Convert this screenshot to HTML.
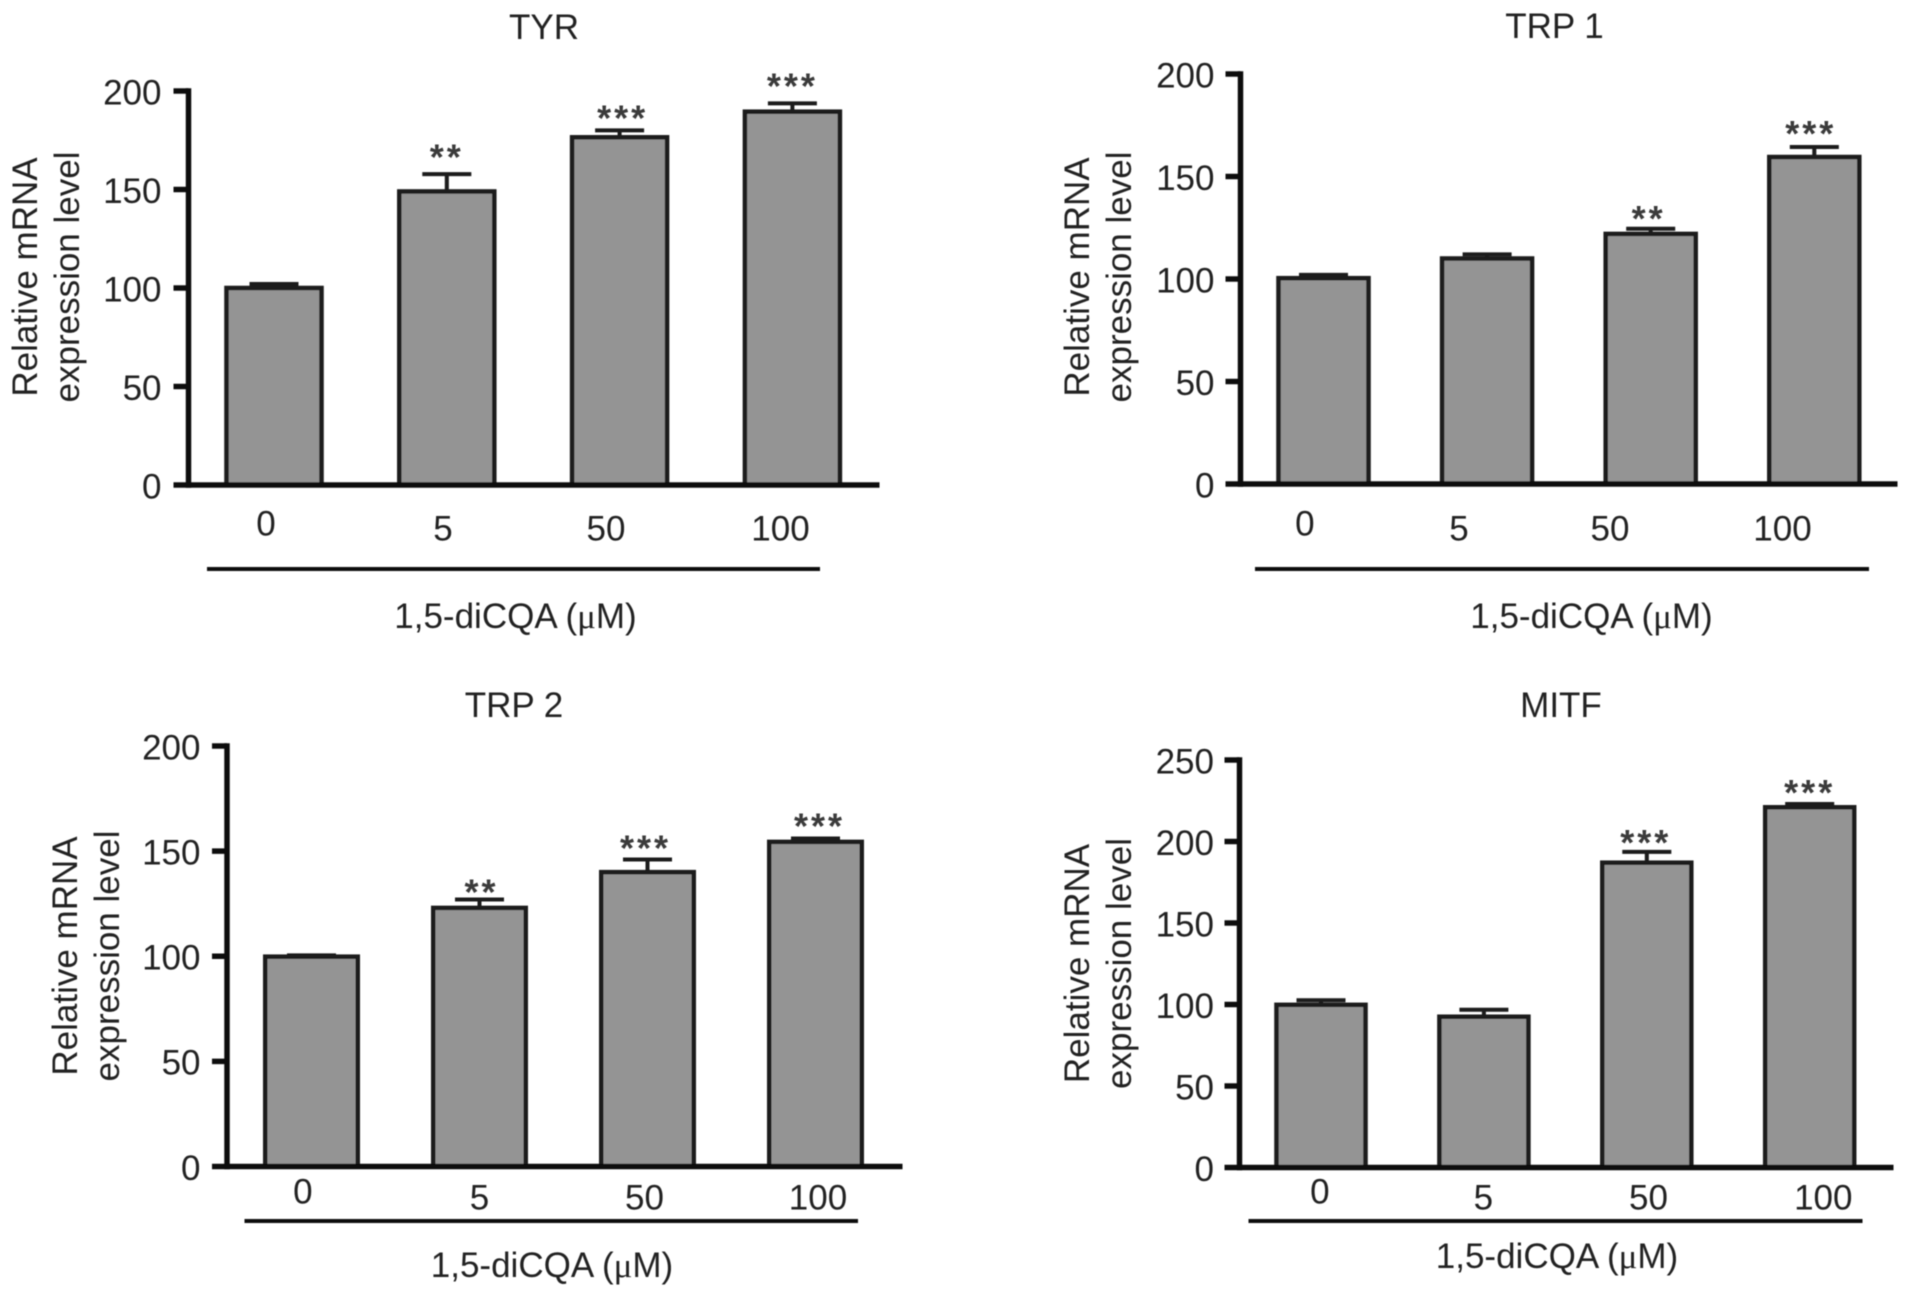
<!DOCTYPE html>
<html lang="en">
<head>
<meta charset="utf-8">
<title>Relative mRNA expression by 1,5-diCQA dose</title>
<style>
html,body{margin:0;padding:0;background:#fff;width:1913px;height:1297px;overflow:hidden}
svg{display:block}
text{font-family:"Liberation Sans",sans-serif;fill:#222}
.title{font-size:35px;text-anchor:middle}
.ytitle{font-size:35px;text-anchor:middle}
.xtitle{font-size:35px;text-anchor:middle}
.mu{font-family:"Liberation Serif",serif}
.bracket{stroke:#111;stroke-width:4}
</style>
</head>
<body>
<svg id="figure" xmlns="http://www.w3.org/2000/svg" width="1913" height="1297" viewBox="0 0 1913 1297">
<defs><filter id="soft" x="-2%" y="-2%" width="104%" height="104%"><feGaussianBlur stdDeviation="0.6"/></filter></defs>
<g filter="url(#soft)">
  <g id="panel-0">
    <text class="title" x="544" y="39">TYR</text>
    <text class="ytitle" transform="translate(37,277) rotate(-90)">Relative mRNA</text>
    <text class="ytitle" transform="translate(79,277) rotate(-90)">expression level</text>
    <line class="bracket" x1="207" x2="820" y1="569" y2="569"></line>
    <text class="xtitle" x="515.5" y="628">1,5-diCQA (<tspan class="mu">μ</tspan>M)</text>
  </g>
  <g id="panel-1">
    <text class="title" x="1554.5" y="38">TRP 1</text>
    <text class="ytitle" transform="translate(1089,277) rotate(-90)">Relative mRNA</text>
    <text class="ytitle" transform="translate(1131,277) rotate(-90)">expression level</text>
    <line class="bracket" x1="1255" x2="1869" y1="569" y2="569"></line>
    <text class="xtitle" x="1591.5" y="628">1,5-diCQA (<tspan class="mu">μ</tspan>M)</text>
  </g>
  <g id="panel-2">
    <text class="title" x="514" y="717">TRP 2</text>
    <text class="ytitle" transform="translate(77,956) rotate(-90)">Relative mRNA</text>
    <text class="ytitle" transform="translate(119,956) rotate(-90)">expression level</text>
    <line class="bracket" x1="244.5" x2="858" y1="1221" y2="1221"></line>
    <text class="xtitle" x="552" y="1277">1,5-diCQA (<tspan class="mu">μ</tspan>M)</text>
  </g>
  <g id="panel-3">
    <text class="title" x="1561" y="717">MITF</text>
    <text class="ytitle" transform="translate(1089,963.5) rotate(-90)">Relative mRNA</text>
    <text class="ytitle" transform="translate(1131,963.5) rotate(-90)">expression level</text>
    <line class="bracket" x1="1248.5" x2="1862.5" y1="1221" y2="1221"></line>
    <text class="xtitle" x="1557" y="1268">1,5-diCQA (<tspan class="mu">μ</tspan>M)</text>
  </g>
</g>
</svg>
<script>
// Chart data
const doseLabels = ['0', '5', '50', '100'];

const tyrValues = [100, 149, 176.5, 189.5];
const tyrErrorTops = [102, 157.8, 180, 193.7];
const tyrStars = ['', '**', '***', '***'];
const tyrTicks = [0, 50, 100, 150, 200];

const trp1Values = [100.4, 110, 122, 159.5];
const trp1ErrorTops = [102, 112, 124.5, 164.4];
const trp1Stars = ['', '', '**', '***'];
const trp1Ticks = [0, 50, 100, 150, 200];

const trp2Values = [99.8, 123, 140, 154.4];
const trp2ErrorTops = [100.4, 127, 146, 156];
const trp2Stars = ['', '**', '***', '***'];
const trp2Ticks = [0, 50, 100, 150, 200];

const mitfValues = [99.8, 92.5, 187, 221];
const mitfErrorTops = [102.6, 96.8, 193.6, 223];
const mitfStars = ['', '', '***', '***'];
const mitfTicks = [0, 50, 100, 150, 200, 250];

// Panel geometry (plot frames, independent of the data)
const panels = [
  {key: 'tyr', values: tyrValues, tops: tyrErrorTops, stars: tyrStars, ticks: tyrTicks,
   axisX: 188.5, plotTop: 91, base: 485, xEnd: 879.5, firstCenter: 274, step: 172.8, barWidth: 99.5, tickPad: 12,
   labelDx: [-8, -3.8, -13.6, -11.9], labelY: [523, 528, 528, 528], starGap: [20, 21, 16, 21], starDx: [0, 0, 3, 0]},
  {key: 'trp1', values: trp1Values, tops: trp1ErrorTops, stars: trp1Stars, ticks: trp1Ticks,
   axisX: 1240.5, plotTop: 74, base: 484, xEnd: 1897.5, firstCenter: 1323.5, step: 163.6, barWidth: 94.5, tickPad: 11,
   labelDx: [-18.7, -28.1, -40.7, -31.8], labelY: [523, 528, 528, 528], starGap: [20, 20, 14, 17], starDx: [0, 0, -2, -3.5]},
  {key: 'trp2', values: trp2Values, tops: trp2ErrorTops, stars: trp2Stars, ticks: trp2Ticks,
   axisX: 227, plotTop: 746, base: 1166.5, xEnd: 902.5, firstCenter: 311.5, step: 168, barWidth: 97, tickPad: 11.5,
   labelDx: [-8.7, 0, -3, 2.5], labelY: [1191, 1197, 1197, 1197], starGap: [16, 11, 15, 16], starDx: [0, 2, -2, 4]},
  {key: 'mitf', values: mitfValues, tops: mitfErrorTops, stars: mitfStars, ticks: mitfTicks,
   axisX: 1239.5, plotTop: 760, base: 1167.5, xEnd: 1893.5, firstCenter: 1321, step: 162.9, barWidth: 93.5, tickPad: 10.5,
   labelDx: [-1.2, -0.6, 1.7, 13.6], labelY: [1191, 1197, 1197, 1197], starGap: [15, 15, 13, 15], starDx: [0, 0, -1, 0]}
];

const NS = 'http://www.w3.org/2000/svg';
const AXIS_W = 5.5, BAR_STROKE = 4.5, ERR_W = 4, TICK_LEN = 15, CAP_W = 49, TICK_FONT = 35, STAR_FONT = 36;

function make(tag, parent) {
  const el = document.createElementNS(NS, tag);
  parent.appendChild(el);
  return el;
}
function setLine(el, x1, y1, x2, y2, color, width) {
  el.setAttribute('x1', x1);
  el.setAttribute('y1', y1);
  el.setAttribute('x2', x2);
  el.setAttribute('y2', y2);
  el.setAttribute('stroke', color);
  el.setAttribute('stroke-width', width);
}

panels.forEach(function (p, idx) {
  const g = document.getElementById('panel-' + idx);
  const maxTick = p.ticks[p.ticks.length - 1];
  const y = function (v) { return p.base - (v / maxTick) * (p.base - p.plotTop); };
  const x = function (i) { return p.firstCenter + i * p.step; };

  p.values.forEach(function (v, i) {
    const cx = x(i);
    const errTop = y(p.tops[i]);

    const err = make('line', g);
    setLine(err, cx, y(v), cx, errTop, '#1a1a1a', ERR_W);
    
    

    const cap = make('line', g);
    setLine(cap, cx - CAP_W / 2, errTop, cx + CAP_W / 2, errTop, '#1a1a1a', ERR_W);
    
    

    const bar = make('rect', g);
    bar.setAttribute('x', cx - p.barWidth / 2 + BAR_STROKE / 2);
    bar.setAttribute('width', p.barWidth - BAR_STROKE);
    bar.setAttribute('y', y(v));
    bar.setAttribute('height', p.base - y(v));
    bar.setAttribute('fill', '#949494');
    bar.setAttribute('stroke', '#1a1a1a');
    bar.setAttribute('stroke-width', BAR_STROKE);
    
    

    const lab = make('text', g);
    lab.setAttribute('x', cx + p.labelDx[i]);
    lab.setAttribute('y', p.labelY[i] + TICK_FONT * 0.35);
    lab.setAttribute('text-anchor', 'middle');
    lab.setAttribute('font-size', TICK_FONT);
    lab.textContent = doseLabels[i];
    
    

    if (p.stars[i]) {
      const star = make('text', g);
      star.setAttribute('x', cx + p.starDx[i]);
      star.setAttribute('y', errTop - p.starGap[i] + STAR_FONT * 0.42 + 1);
      star.setAttribute('text-anchor', 'middle');
      star.setAttribute('font-size', STAR_FONT);
      star.setAttribute('font-weight', 'bold');
      star.setAttribute('letter-spacing', '3');
      star.setAttribute('style', 'fill:#3a3a3a');
      star.textContent = p.stars[i];
      
      
    }
  });

  const yAxis = make('line', g);
  setLine(yAxis, p.axisX, p.plotTop - AXIS_W / 2, p.axisX, p.base + AXIS_W / 2, '#111', AXIS_W);
  
  

  const xAxis = make('line', g);
  setLine(xAxis, p.axisX, p.base, p.xEnd, p.base, '#111', AXIS_W);
  
  

  p.ticks.forEach(function (t) {
    const tick = make('line', g);
    setLine(tick, p.axisX - TICK_LEN, y(t), p.axisX, y(t), '#111', AXIS_W);
    
    

    const tl = make('text', g);
    tl.setAttribute('x', p.axisX - TICK_LEN - p.tickPad);
    tl.setAttribute('y', y(t) + TICK_FONT * 0.35 + 1);
    tl.setAttribute('text-anchor', 'end');
    tl.setAttribute('font-size', TICK_FONT);
    tl.textContent = t;
    
    
  });
});
</script>
</body>
</html>
